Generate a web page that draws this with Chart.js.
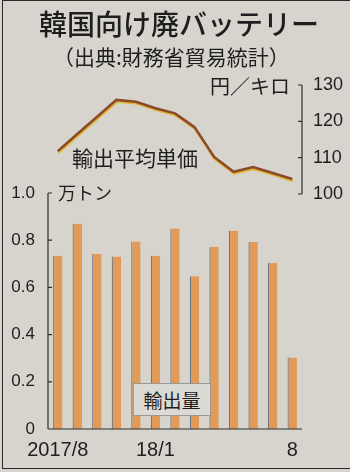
<!DOCTYPE html>
<html>
<head>
<meta charset="utf-8">
<script src="https://cdn.jsdelivr.net/npm/chart.js@4.4.1/dist/chart.umd.min.js"></script>
<style>
body { margin: 0; background: #d7d4cd; }
#wrap { position: relative; width: 350px; height: 472px; overflow: hidden; background: #d7d4cd; }
#frame { position: absolute; left: 2px; top: 0; width: 400px; height: 467px;
  border-left: 1.5px solid #2a2a2a; border-top: 1.5px solid #2a2a2a; border-bottom: 1.5px solid #2a2a2a; }
.t { position: absolute; font-family: "Noto Sans CJK JP", sans-serif; color: #1e1e1e; white-space: nowrap; line-height: 1; }
#title { left: 39px; top: 9px; font-size: 28px; font-weight: 500; }
#sub { left: 53px; top: 46px; font-size: 21px; }
#unitR { left: 210px; top: 76px; font-size: 20px; }
#lineLbl { left: 72px; top: 147px; font-size: 21px; }
#unitL { left: 58px; top: 183px; font-size: 18px; }
#barLbl { left: 133px; top: 383px; width: 76px; height: 31px; background: #dcdad5;
  border: 1px solid #9a9893; font-size: 19px; text-align: center; line-height: 31px; }
canvas { position: absolute; left: 0; top: 0; }
</style>
</head>
<body>
<div id="wrap">
  <canvas id="myChart" width="350" height="472"></canvas>
  <div id="frame"></div>
  <div class="t" id="title">韓国向け廃バッテリー</div>
  <div class="t" id="sub">（出典:財務省貿易統計）</div>
  <div class="t" id="unitR">円／キロ</div>
  <div class="t" id="lineLbl">輸出平均単価</div>
  <div class="t" id="unitL">万トン</div>
  <div class="t" id="barLbl">輸出量</div>
</div>
<script>
// 2017/8 - 2018/8
var months = ['2017/8', '9', '10', '11', '12', '18/1', '2', '3', '4', '5', '6', '7', '8'];
var tickLabels = ['2017/8', '', '', '', '', '18/1', '', '', '', '', '', '', '8'];
var volume = [0.734, 0.870, 0.742, 0.731, 0.795, 0.734, 0.850, 0.647, 0.772, 0.840, 0.792, 0.703, 0.303]; // 万トン
var unitPrice = [111.8, 116.5, 121.2, 125.9, 125.4, 123.6, 122.2, 118.4, 110.2, 106.1, 107.4, 105.8, 104.1]; // 円/キロ
var volumeTicks = [0, 0.2, 0.4, 0.6, 0.8, 1.0];
var priceTicks = [100, 110, 120, 130];

var axisColor = '#2e2e2e';

// line gets a yellow edge under it like the print
var lineShadow = {
    id: 'lineShadow',
    beforeDatasetDraw: function(chart, args) {
        if (args.index !== 0) return;
        var c = chart.ctx;
        c.save();
        c.shadowColor = '#e2b42e';
        c.shadowOffsetX = 0.5;
        c.shadowOffsetY = 1.6;
        c.shadowBlur = 0;
    },
    afterDatasetDraw: function(chart, args) {
        if (args.index !== 0) return;
        chart.ctx.restore();
    }
};

// axis lines only over the value ranges, ticks pointing inward
var axisLines = {
    id: 'axisLines',
    afterDraw: function(chart) {
        var c = chart.ctx;
        var y = chart.scales.y, y1 = chart.scales.y1, x = chart.scales.x;
        c.save();
        c.strokeStyle = axisColor;
        c.lineWidth = 1.2;
        c.beginPath();
        // left axis
        var lx = y.right;
        c.moveTo(lx, y.getPixelForValue(0));
        c.lineTo(lx, y.getPixelForValue(1.0));
        volumeTicks.forEach(function(v) {
            if (v === 0) return;
            var py = y.getPixelForValue(v);
            c.moveTo(lx, py);
            c.lineTo(lx + 4, py);
        });
        // right axis
        var rx = y1.left;
        c.moveTo(rx, y1.getPixelForValue(100));
        c.lineTo(rx, y1.getPixelForValue(130));
        priceTicks.forEach(function(v) {
            var py = y1.getPixelForValue(v);
            c.moveTo(rx, py);
            c.lineTo(rx - 4, py);
        });
        // base line
        var by = y.getPixelForValue(0);
        c.moveTo(x.left, by);
        c.lineTo(x.right, by);
        c.stroke();
        c.restore();
    }
};

var ctx = document.getElementById('myChart').getContext('2d');
var myChart = new Chart(ctx, {
    type: 'bar',
    data: {
        labels: months,
        datasets: [{
            type: 'line',
            label: '輸出平均単価',
            data: unitPrice,
            yAxisID: 'y1',
            borderColor: '#8a4a2c',
            borderWidth: 2.6,
            pointRadius: 0,
            tension: 0,
            fill: false
        }, {
            type: 'bar',
            label: '輸出量',
            data: volume,
            yAxisID: 'y',
            backgroundColor: '#e29a59',
            borderColor: '#6d7280',
            borderWidth: { left: 1.2, top: 0, right: 0, bottom: 0 },
            barPercentage: 0.48,
            categoryPercentage: 1.0
        }]
    },
    options: {
        responsive: false,
        animation: false,
        events: [],
        layout: { padding: { top: 85, left: 0, right: 0, bottom: 0 } },
        plugins: {
            legend: { display: false },
            tooltip: { enabled: false }
        },
        scales: {
            x: {
                offset: true,
                grid: { display: false, drawTicks: false },
                border: { display: false },
                ticks: {
                    autoSkip: false,
                    maxRotation: 0,
                    minRotation: 0,
                    padding: 9,
                    color: '#1e1e1e',
                    font: { family: 'Liberation Sans', size: 20 },
                    callback: function(v, i) { return tickLabels[i]; }
                },
                afterFit: function(s) { s.height = 43; }
            },
            y: {
                position: 'left',
                min: 0,
                max: 344 / 236,
                grid: { display: false, drawTicks: false },
                border: { display: false },
                ticks: {
                    padding: 13,
                    color: '#1e1e1e',
                    font: { family: 'Liberation Sans', size: 17 },
                    callback: function(v) { return v === 0 ? '0' : v.toFixed(1); }
                },
                afterBuildTicks: function(s) {
                    s.ticks = volumeTicks.map(function(v) { return { value: v }; });
                },
                afterFit: function(s) { s.width = 48; }
            },
            y1: {
                position: 'right',
                min: 130 - 344 * 10 / 36.33,
                max: 130,
                grid: { display: false, drawTicks: false },
                border: { display: false },
                ticks: {
                    padding: 11,
                    color: '#1e1e1e',
                    font: { family: 'Liberation Sans', size: 18 }
                },
                afterBuildTicks: function(s) {
                    s.ticks = priceTicks.map(function(v) { return { value: v }; });
                },
                afterFit: function(s) { s.width = 48; }
            }
        }
    },
    plugins: [lineShadow, axisLines]
});
</script>
</body>
</html>
